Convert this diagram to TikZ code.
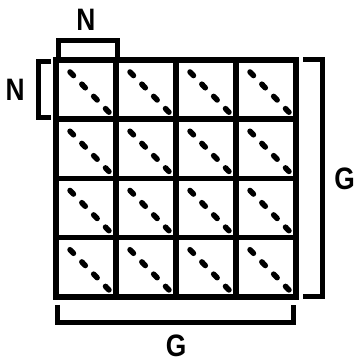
\documentclass[tikz,border=0pt]{standalone}
\usepackage{fontspec}
\setmainfont{Liberation Sans}
\usetikzlibrary{positioning}

\begin{document}
\begin{tikzpicture}[x=1pt, y=-1pt, line width=5.5pt,
  cell/.style={draw, minimum width=60pt, minimum height=59.25pt, inner sep=0pt, outer sep=0pt},
  diag/.style={line width=5.5pt, line cap=round, dash pattern=on 5pt off 12pt},
  brk/.style={line width=5pt},
  lbl/.style={font=\fontsize{31}{31}\selectfont\bfseries, inner sep=0pt, text depth=0pt, xscale=0.85}]
\useasboundingbox (0,0) rectangle (355,364);
% blocks, each with its dashed diagonal
\foreach \r in {0,...,3}{
  \foreach \c in {0,...,3}{
    \node[cell] (c\r\c) at ({86+60*\c},{89.6+59.25*\r}) {};
    \draw[diag] ([shift={(14pt,-12pt)}]c\r\c.north west) -- ([shift={(-7pt,7pt)}]c\r\c.south east);
  }
}
% top bracket: one block wide
\coordinate (topmid) at ([yshift=19pt]c00.north);
\draw[brk] ([xshift=2pt,yshift=3pt]c00.north west) |- (topmid) -| ([xshift=1pt,yshift=3pt]c00.north east);
\node[lbl, above=8pt of topmid] (ntop) {N};
% left bracket: one block high
\coordinate (leftmid) at ([xshift=-18pt]c00.west);
\draw[brk] ([xshift=-5pt,yshift=-2pt]c00.north west) -| (leftmid) |- ([xshift=-5pt,yshift=2pt]c00.south west);
\node[lbl, left=11pt of leftmid] (nleft) {N};
% right bracket: whole height
\coordinate (rightmid) at ([xshift=26pt]c13.south east);
\draw[brk] ([xshift=7pt]c03.north east) -| (rightmid) |- ([xshift=7pt]c33.south east);
\node[lbl, right=10pt of rightmid] (gright) {G};
% bottom bracket: whole width
\coordinate (botmid) at ([yshift=-26pt]c31.south east);
\draw[brk] ([xshift=1pt,yshift=-8pt]c30.south west) |- (botmid) -| ([xshift=-3pt,yshift=-8pt]c33.south east);
\node[lbl, below=9pt of botmid] (gbot) {G};
\end{tikzpicture}
\end{document}
